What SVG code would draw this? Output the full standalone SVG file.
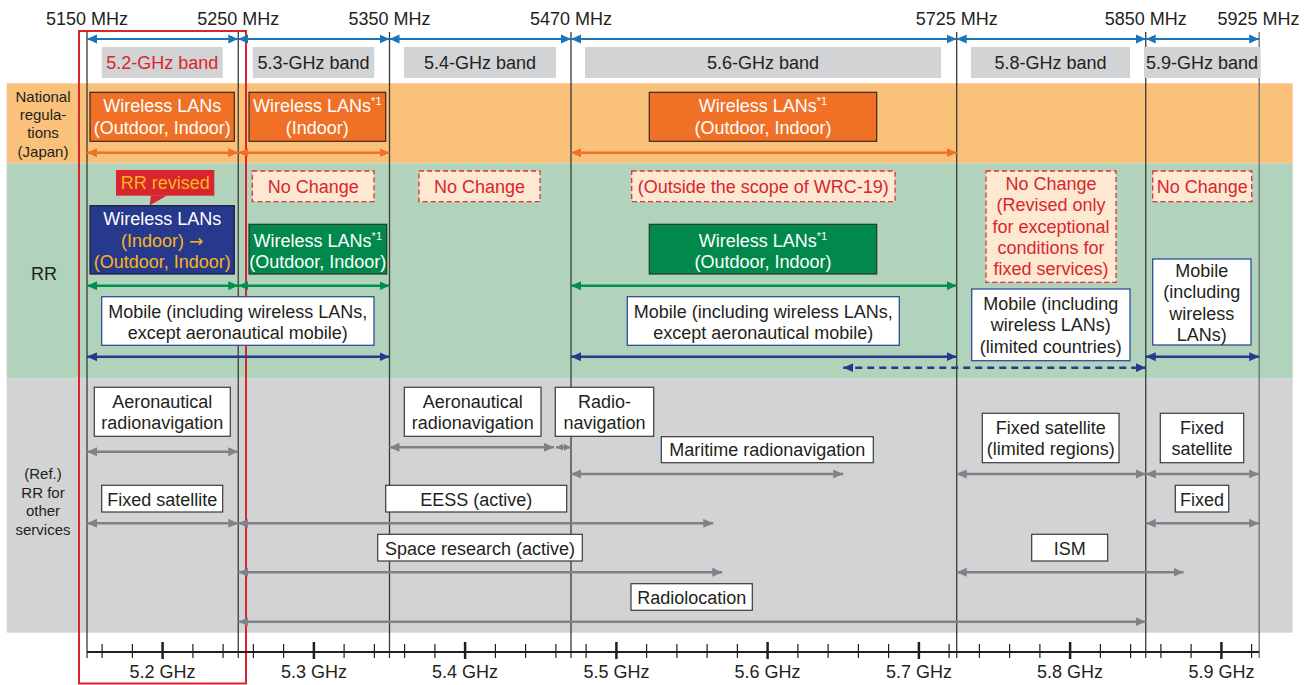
<svg xmlns="http://www.w3.org/2000/svg" width="1310" height="685" viewBox="0 0 1310 685">
<defs>
<style>
text{font-family:"Liberation Sans",Arial,Helvetica,sans-serif;font-size:18px;fill:#231f20;text-anchor:middle}
.s{font-size:15px}
.w{fill:#fff}
.r{fill:#d9262e}
.y{fill:#f6b61c}
.bx{fill:#fff;stroke:#3a3a3a;stroke-width:1.2}
.mb{fill:#fff;stroke:#2f4c9c;stroke-width:1.3}
.nc{fill:#fde8d2;stroke:#e0303a;stroke-width:1.3;stroke-dasharray:5 3}
.ob{fill:#f07125;stroke:#3a2a1a;stroke-width:1.2}
.gb{fill:#00894b;stroke:#1f3a2a;stroke-width:1.2}
.nb{fill:#27398d;stroke:#1a1a3a;stroke-width:1.2}
.gl{fill:#d1d3d4}
.vl{stroke:#3a3a3a;stroke-width:1.3;fill:none}
.ab{stroke:#1b75bb;stroke-width:2;fill:none;marker-start:url(#mB);marker-end:url(#mB)}
.ao{stroke:#f07125;stroke-width:2.5;fill:none;marker-start:url(#mO);marker-end:url(#mO)}
.ag{stroke:#00904c;stroke-width:2.5;fill:none;marker-start:url(#mG);marker-end:url(#mG)}
.an{stroke:#27398d;stroke-width:2.5;fill:none;marker-start:url(#mN);marker-end:url(#mN)}
.ad{stroke:#27398d;stroke-width:2.5;fill:none;stroke-dasharray:7 5;marker-start:url(#mN);marker-end:url(#mN)}
.ay{stroke:#808285;stroke-width:2.5;fill:none;marker-start:url(#mY);marker-end:url(#mY)}
.as{stroke:#808285;stroke-width:2.5;fill:none;marker-start:url(#mS);marker-end:url(#mS)}
</style>
<marker id="mB" markerUnits="userSpaceOnUse" viewBox="0 0 10 10" refX="10" refY="5" markerWidth="10" markerHeight="10" orient="auto-start-reverse"><path d="M0,0.5L10,5L0,9.5z" fill="#1b75bb"/></marker>
<marker id="mO" markerUnits="userSpaceOnUse" viewBox="0 0 10 10" refX="10" refY="5" markerWidth="10" markerHeight="10" orient="auto-start-reverse"><path d="M0,0.5L10,5L0,9.5z" fill="#f07125"/></marker>
<marker id="mG" markerUnits="userSpaceOnUse" viewBox="0 0 10 10" refX="10" refY="5" markerWidth="10" markerHeight="10" orient="auto-start-reverse"><path d="M0,0.5L10,5L0,9.5z" fill="#00904c"/></marker>
<marker id="mN" markerUnits="userSpaceOnUse" viewBox="0 0 10 10" refX="10" refY="5" markerWidth="10" markerHeight="10" orient="auto-start-reverse"><path d="M0,0.5L10,5L0,9.5z" fill="#27398d"/></marker>
<marker id="mY" markerUnits="userSpaceOnUse" viewBox="0 0 10 10" refX="10" refY="5" markerWidth="10" markerHeight="10" orient="auto-start-reverse"><path d="M0,0.5L10,5L0,9.5z" fill="#808285"/></marker>
<marker id="mS" markerUnits="userSpaceOnUse" viewBox="0 0 7 8" refX="7" refY="4" markerWidth="7" markerHeight="8" orient="auto-start-reverse"><path d="M0,0.5L7,4L0,7.5z" fill="#808285"/></marker>
</defs>

<g id="backgrounds">
<rect x="6.7" y="83.3" width="1286" height="80" fill="#f9c17a"/>
<rect x="6.7" y="163.3" width="1286" height="215" fill="#b2d3bb"/>
<rect x="6.7" y="378.3" width="1286" height="254.4" fill="#d1d3d4"/>
</g>

<g id="highlight">
<rect x="79" y="31" width="167" height="652.5" fill="none" stroke="#d9262e" stroke-width="2"/>
</g>

<g id="freq-labels">
<text x="87" y="25">5150 MHz</text>
<text x="238.2" y="25">5250 MHz</text>
<text x="389.5" y="25">5350 MHz</text>
<text x="571" y="25">5470 MHz</text>
<text x="956.7" y="25">5725 MHz</text>
<text x="1145.7" y="25">5850 MHz</text>
<text x="1258.5" y="25">5925 MHz</text>
</g>

<g id="band-lines">
<path class="vl" d="M87,32V658M238.25,32V658M389.5,32V658M571,32V658M956.7,32V658M1145.75,32V658"/>
<path d="M1259.2,32V658" stroke="#6d6e70" stroke-width="1.3"/>
</g>

<g id="row-labels">
<text class="s" x="43" y="101.7">National</text>
<text class="s" x="43" y="120">regula-</text>
<text class="s" x="43" y="138.3">tions</text>
<text class="s" x="43" y="156.7">(Japan)</text>
<text x="44" y="280">RR</text>
<text class="s" x="43" y="479">(Ref.)</text>
<text class="s" x="43" y="497.5">RR for</text>
<text class="s" x="43" y="516">other</text>
<text class="s" x="43" y="534.5">services</text>
</g>

<g id="axis">
<path d="M87,652H1259.2" stroke="#231f20" stroke-width="2"/>
<path stroke="#231f20" stroke-width="1.2" d="M102.1,644V658M132.4,644V658M192.9,644V658M223.1,644V658M253.4,644V658M283.6,644V658M344.1,644V658M374.4,644V658M404.6,644V658M434.9,644V658M495.4,644V658M525.6,644V658M555.9,644V658M586.1,644V658M646.6,644V658M676.9,644V658M707.1,644V658M737.4,644V658M797.9,644V658M828.1,644V658M858.4,644V658M888.6,644V658M949.1,644V658M979.4,644V658M1009.6,644V658M1039.9,644V658M1100.4,644V658M1130.6,644V658M1160.9,644V658M1191.1,644V658M1251.6,644V658"/>
<path stroke="#231f20" stroke-width="2.5" d="M162.6,642V659M313.9,642V659M465.1,642V659M616.4,642V659M767.6,642V659M918.9,642V659M1070.1,642V659M1221.4,642V659"/>
<text x="162.6" y="678">5.2 GHz</text>
<text x="313.9" y="678">5.3 GHz</text>
<text x="465.1" y="678">5.4 GHz</text>
<text x="616.4" y="678">5.5 GHz</text>
<text x="767.6" y="678">5.6 GHz</text>
<text x="918.9" y="678">5.7 GHz</text>
<text x="1070.1" y="678">5.8 GHz</text>
<text x="1221.4" y="678">5.9 GHz</text>
</g>

<g id="connectors">
<path class="ab" d="M87,39H238.25"/>
<path class="ab" d="M238.25,39H389.5"/>
<path class="ab" d="M389.5,39H571"/>
<path class="ab" d="M571,39H956.7"/>
<path class="ab" d="M956.7,39H1145.75"/>
<path class="ab" d="M1145.75,39H1259.2"/>
<path class="ao" d="M87,152.7H238.25"/>
<path class="ao" d="M238.25,152.7H389.5"/>
<path class="ao" d="M571,152.7H956.7"/>
<path class="ag" d="M87,285.7H238.25"/>
<path class="ag" d="M238.25,285.7H389.5"/>
<path class="ag" d="M571,285.7H956.7"/>
<path class="an" d="M87,356.7H389.5"/>
<path class="an" d="M571,356.7H956.7"/>
<path class="an" d="M1145.75,356.7H1259.2"/>
<path class="ad" d="M843.25,367.7H1145.75"/>
<path class="ay" d="M87,451.7H238.25"/>
<path class="ay" d="M389.5,447.3H554"/>
<path class="as" d="M556,447.3H571"/>
<path class="ay" d="M571,474H843.25"/>
<path class="ay" d="M956.7,474H1145.75"/>
<path class="ay" d="M1145.75,474H1259.2"/>
<path class="ay" d="M87,523.3H238.25"/>
<path class="ay" d="M238.25,523.3H713.3"/>
<path class="ay" d="M1145.75,523.3H1259.2"/>
<path class="ay" d="M238.25,572.3H722.25"/>
<path class="ay" d="M956.7,572.3H1183.5"/>
<path class="ay" d="M238.25,621.7H1145.75"/>
</g>

<g id="band-52"><rect class="gl" x="101.7" y="47" width="121" height="31"/><text class="r" x="162.2" y="69">5.2-GHz band</text></g>
<g id="band-53"><rect class="gl" x="252.7" y="47" width="121.6" height="31"/><text x="313.5" y="69">5.3-GHz band</text></g>
<g id="band-54"><rect class="gl" x="404" y="47" width="152" height="31"/><text x="480" y="69">5.4-GHz band</text></g>
<g id="band-56"><rect class="gl" x="585" y="47" width="356" height="31"/><text x="763" y="69">5.6-GHz band</text></g>
<g id="band-58"><rect class="gl" x="971" y="47" width="159" height="31"/><text x="1050.5" y="69">5.8-GHz band</text></g>
<g id="band-59"><rect class="gl" x="1144" y="47" width="116.7" height="31"/><text x="1202" y="69">5.9-GHz band</text></g>

<g id="jp-52"><rect class="ob" x="90" y="92.3" width="144.3" height="49"/><text class="w" x="162.2" y="111.5">Wireless LANs</text><text class="w" x="162.2" y="133.5">(Outdoor, Indoor)</text></g>
<g id="jp-53"><rect class="ob" x="249" y="92.3" width="136.7" height="49"/><text class="w" x="317.3" y="111.5">Wireless LANs<tspan font-size="11" dy="-7">*1</tspan></text><text class="w" x="317.3" y="133.5">(Indoor)</text></g>
<g id="jp-56"><rect class="ob" x="649.3" y="92.3" width="227.4" height="49"/><text class="w" x="763" y="111.5">Wireless LANs<tspan font-size="11" dy="-7">*1</tspan></text><text class="w" x="763" y="133.5">(Outdoor, Indoor)</text></g>

<g id="rr-revised"><rect x="116" y="170" width="98.3" height="25.7" fill="#d9262e"/><path d="M151,195.5L167,195.5L149.5,205.5z" fill="#d9262e"/><text class="y" x="165.2" y="189">RR revised</text></g>
<g id="rr-52"><rect class="nb" x="90" y="205.7" width="144.3" height="68.3"/><text class="w" x="162.2" y="225">Wireless LANs</text><text class="y" x="162.2" y="246.5">(Indoor) <tspan font-family="DejaVu Sans" font-size="17">→</tspan></text><text class="y" x="162.2" y="267.5">(Outdoor, Indoor)</text></g>
<g id="nc-53"><rect class="nc" x="252.3" y="171" width="121.7" height="30.7"/><text class="r" x="313.2" y="193">No Change</text></g>
<g id="nc-54"><rect class="nc" x="419" y="171" width="121" height="30.7"/><text class="r" x="479.5" y="193">No Change</text></g>
<g id="nc-56"><rect class="nc" x="631.7" y="171" width="263.3" height="30.7"/><text class="r" x="763.3" y="193">(Outside the scope of WRC-19)</text></g>
<g id="nc-58"><rect class="nc" x="986" y="171" width="130" height="111.3"/><text class="r" x="1051" y="189.8">No Change</text><text class="r" x="1051" y="211.3">(Revised only</text><text class="r" x="1051" y="232.7">for exceptional</text><text class="r" x="1051" y="253.8">conditions for</text><text class="r" x="1051" y="274.8">fixed services)</text></g>
<g id="nc-59"><rect class="nc" x="1152.7" y="171" width="99" height="30.7"/><text class="r" x="1202.2" y="193">No Change</text></g>
<g id="rr-53"><rect class="gb" x="249" y="224.3" width="137.7" height="49.7"/><text class="w" x="317.8" y="246.5">Wireless LANs<tspan font-size="11" dy="-7">*1</tspan></text><text class="w" x="317.8" y="267.5">(Outdoor, Indoor)</text></g>
<g id="rr-56"><rect class="gb" x="649.3" y="224.3" width="227.4" height="49.7"/><text class="w" x="763" y="246.5">Wireless LANs<tspan font-size="11" dy="-7">*1</tspan></text><text class="w" x="763" y="267.5">(Outdoor, Indoor)</text></g>
<g id="mob-5253"><rect class="mb" x="101.7" y="296.7" width="272.3" height="48.6"/><text x="237.8" y="318">Mobile (including wireless LANs,</text><text x="237.8" y="339">except aeronautical mobile)</text></g>
<g id="mob-56"><rect class="mb" x="627.3" y="296.7" width="272" height="48.6"/><text x="763.3" y="318">Mobile (including wireless LANs,</text><text x="763.3" y="339">except aeronautical mobile)</text></g>
<g id="mob-58"><rect class="mb" x="971.7" y="289" width="158.3" height="71.7"/><text x="1050.8" y="309.5">Mobile (including</text><text x="1050.8" y="331">wireless LANs)</text><text x="1050.8" y="352.5">(limited countries)</text></g>
<g id="mob-59"><rect class="mb" x="1152.7" y="259" width="98.3" height="86"/><text x="1201.8" y="276.5">Mobile</text><text x="1201.8" y="298">(including</text><text x="1201.8" y="319.5">wireless</text><text x="1201.8" y="340.5">LANs)</text></g>

<g id="svc-aero1"><rect class="bx" x="94.3" y="387.3" width="136" height="49"/><text x="162.3" y="407.5">Aeronautical</text><text x="162.3" y="428.8">radionavigation</text></g>
<g id="svc-aero2"><rect class="bx" x="404.3" y="387.3" width="136.7" height="49"/><text x="472.7" y="407.5">Aeronautical</text><text x="472.7" y="428.8">radionavigation</text></g>
<g id="svc-radionav"><rect class="bx" x="555.3" y="387.3" width="98.4" height="49"/><text x="604.5" y="407.5">Radio-</text><text x="604.5" y="428.8">navigation</text></g>
<g id="svc-maritime"><rect class="bx" x="661.3" y="436.7" width="212" height="26"/><text x="767.3" y="456.3">Maritime radionavigation</text></g>
<g id="svc-fsat1"><rect class="bx" x="101.7" y="485.3" width="121" height="26.7"/><text x="162.2" y="505.5">Fixed satellite</text></g>
<g id="svc-eess"><rect class="bx" x="385.7" y="485.3" width="181" height="26.7"/><text x="476.2" y="505.5">EESS (active)</text></g>
<g id="svc-space"><rect class="bx" x="377.7" y="534.3" width="204.6" height="26.7"/><text x="480" y="554.5">Space research (active)</text></g>
<g id="svc-radioloc"><rect class="bx" x="631" y="583.7" width="121.3" height="26.6"/><text x="691.7" y="603.8">Radiolocation</text></g>
<g id="svc-fsat-lim"><rect class="bx" x="982.3" y="413.3" width="136.7" height="49.4"/><text x="1050.7" y="434">Fixed satellite</text><text x="1050.7" y="455">(limited regions)</text></g>
<g id="svc-fsat2"><rect class="bx" x="1160.3" y="413.3" width="83.4" height="49.4"/><text x="1202" y="434">Fixed</text><text x="1202" y="455">satellite</text></g>
<g id="svc-fixed"><rect class="bx" x="1175.3" y="485.3" width="53.4" height="26.7"/><text x="1202" y="505.5">Fixed</text></g>
<g id="svc-ism"><rect class="bx" x="1031.7" y="534.3" width="76" height="26.7"/><text x="1069.7" y="554.5">ISM</text></g>
</svg>
